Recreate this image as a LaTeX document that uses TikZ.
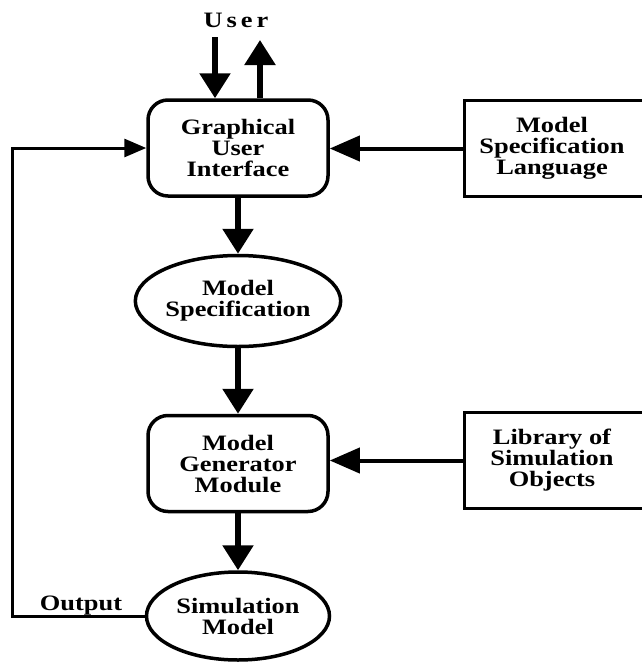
\documentclass[tikz,border=0pt]{standalone}
\usepackage{fontspec}
\setmainfont[FakeStretch=1.2]{Liberation Serif}
\usetikzlibrary{arrows.meta,shapes.geometric}
\begin{document}
\begin{tikzpicture}[x=1pt,y=-1pt,
  every node/.style={font=\fontsize{22}{21}\selectfont\bfseries, align=center, inner sep=0pt},
  roundbox/.style={draw, line width=3.5pt, rounded corners=20pt, minimum width=180pt, minimum height=96pt},
  plainbox/.style={draw, line width=3pt, minimum width=190pt, minimum height=96pt},
  oval/.style={draw, ellipse, line width=3.5pt},
  flow/.style={line width=5.5pt, -{Triangle[width=30pt,length=25pt]}},
  feed/.style={line width=4pt, -{Triangle[width=25pt,length=30pt]}},
  back/.style={line width=3pt, -{Triangle[width=18pt,length=22pt]}}
]
\useasboundingbox (0,0) rectangle (641,662);

% blocks
\node[roundbox] (gui) at (238,148) {Graphical\\User\\Interface};
\node[plainbox] (msl) at (559,148.5) {\hspace*{-14pt}Model\\\hspace*{-14pt}Specification\\\hspace*{-14pt}Language};
\node[oval, minimum width=182pt, minimum height=91pt] (ms) at (238,301) {Model\\Specification};
\node[roundbox] (gen) at (238,463.5) {Model\\Generator\\Module};
\node[plainbox] (lib) at (559,460.5) {\hspace*{-14pt}Library of\\\hspace*{-14pt}Simulation\\\hspace*{-14pt}Objects};
\node[oval, minimum width=183pt, minimum height=88pt] (sim) at (238,616) {Simulation\\Model};

% labels
\node (user) at (236,20) {\addfontfeature{LetterSpace=18}User};
\node (out) at (81,606) {Output};

% user interaction
\coordinate (uin) at (215,37);
\coordinate (uout) at (260,40);
\draw[flow] (uin) -- (uin |- gui.north);
\draw[flow] (uout |- gui.north) -- (uout);

% main flow
\draw[flow] (gui) -- (ms);
\draw[flow] (ms) -- (gen);
\draw[flow] (gen) -- (sim);

% side inputs
\draw[feed] (msl.west) -- (msl.west -| gui.east);
\draw[feed] (lib.west) -- (lib.west -| gen.east);

% output fed back to the interface
\coordinate (fb) at (12,616);
\draw[back] (sim.west) -- (fb) |- (gui.west);
\end{tikzpicture}
\end{document}
